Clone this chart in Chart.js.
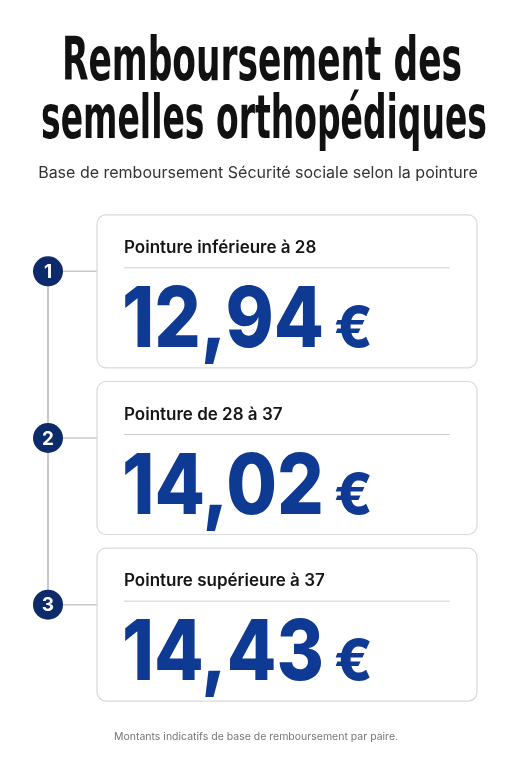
<!DOCTYPE html>
<html><head><meta charset="utf-8">
<script src="https://cdn.jsdelivr.net/npm/chart.js@4"></script>
<style>html,body{margin:0;padding:0;background:#fff}#w{width:511px;height:768px;position:relative}</style>
</head><body><div id="w"><canvas id="c"></canvas></div>
<script>
const categories = ["Pointure inférieure à 28","Pointure de 28 à 37","Pointure supérieure à 37"];
const values = [12.94, 14.02, 14.43];
const steps = ["1","2","3"];
const titleLines = ["Remboursement des","semelles orthopédiques"];
const subtitle = "Base de remboursement Sécurité sociale selon la pointure";
const footnote = "Montants indicatifs de base de remboursement par paire.";

function rr(ctx,x,y,w,h,r){ctx.beginPath();ctx.moveTo(x+r,y);ctx.arcTo(x+w,y,x+w,y+h,r);ctx.arcTo(x+w,y+h,x,y+h,r);ctx.arcTo(x,y+h,x,y,r);ctx.arcTo(x,y,x+w,y,r);ctx.closePath();}
function fitText(ctx,t,cx,y,w){const m=ctx.measureText(t).width;ctx.save();ctx.translate(cx,y);ctx.scale(w/m,1);ctx.textAlign='center';ctx.fillText(t,0,0);ctx.restore();}

const plugin={id:'info',afterDatasetsDraw(chart){
  const ctx=chart.ctx, xs=chart.scales.x, ys=chart.scales.y;
  ctx.save();
  ctx.fillStyle='#111';ctx.textBaseline='alphabetic';
  ctx.font="900 60px 'Liberation Sans Narrow','DejaVu Sans Condensed',sans-serif";
  fitText(ctx,titleLines[0],262,80,400);
  fitText(ctx,titleLines[1],264,138,446);
  ctx.font="400 16px Inter,'Noto Sans',sans-serif";ctx.fillStyle='#333';ctx.textAlign='center';
  ctx.fillText(subtitle,258,178);
  ctx.font="400 10.5px Inter,'Noto Sans',sans-serif";ctx.fillStyle='#777';
  ctx.fillText(footnote,256,740);
  const cx=xs.getPixelForValue(0), right=xs.getPixelForValue(1);
  const cardL=97, h=153;
  const cy=values.map((v,i)=>ys.getPixelForValue(i)-20);
  ctx.strokeStyle='#c8c8c8';ctx.lineWidth=2;
  ctx.beginPath();ctx.moveTo(cx,cy[0]);ctx.lineTo(cx,cy[cy.length-1]);ctx.stroke();
  values.forEach((v,i)=>{
    const c=ys.getPixelForValue(i), top=c-h/2;
    ctx.strokeStyle='#c8c8c8';ctx.lineWidth=1.5;
    ctx.beginPath();ctx.moveTo(cx,cy[i]);ctx.lineTo(cardL,cy[i]);ctx.stroke();
    rr(ctx,cardL,top,right-cardL,h,9);ctx.fillStyle='#fff';ctx.fill();ctx.strokeStyle='#d9d9d9';ctx.lineWidth=1.2;ctx.stroke();
    ctx.fillStyle='#0d2a6b';ctx.beginPath();ctx.arc(cx,cy[i],15,0,Math.PI*2);ctx.fill();
    ctx.fillStyle='#fff';ctx.font="bold 19px Inter,sans-serif";ctx.textAlign='center';ctx.textBaseline='middle';
    ctx.fillText(steps[i],cx,cy[i]+1);
    ctx.textBaseline='alphabetic';ctx.textAlign='left';ctx.fillStyle='#151515';
    ctx.font="600 17px Inter,'Noto Sans',sans-serif";
    ctx.fillText(categories[i],124,top+38);
    ctx.strokeStyle='#cfcfcf';ctx.lineWidth=1;ctx.beginPath();ctx.moveTo(124,top+53);ctx.lineTo(450,top+53);ctx.stroke();
    ctx.fillStyle='#0f3a94';
    ctx.font="800 84px Inter,'Noto Sans',sans-serif";
    const s=v.toFixed(2).replace('.',',');
    const m=ctx.measureText(s).width;
    ctx.save();ctx.translate(122,top+132);ctx.scale(202/m,1);ctx.fillText(s,0,0);ctx.restore();
    ctx.font="800 56px Inter,'Noto Sans',sans-serif";
    ctx.fillText('€',334,top+132);
  });
  ctx.restore();
}};

new Chart(document.getElementById('c'),{
  type:'scatter',
  data:{datasets:[{data:values.map((v,i)=>({x:0,y:i})),pointRadius:0}]},
  options:{responsive:true,maintainAspectRatio:false,animation:false,
    layout:{padding:{top:208,bottom:60,left:48,right:34}},
    plugins:{legend:{display:false},tooltip:{enabled:false}},
    scales:{x:{type:'linear',min:0,max:1,display:false},y:{type:'linear',min:-0.5,max:2.5,reverse:true,display:false}}},
  plugins:[plugin]
});
</script></body></html>
